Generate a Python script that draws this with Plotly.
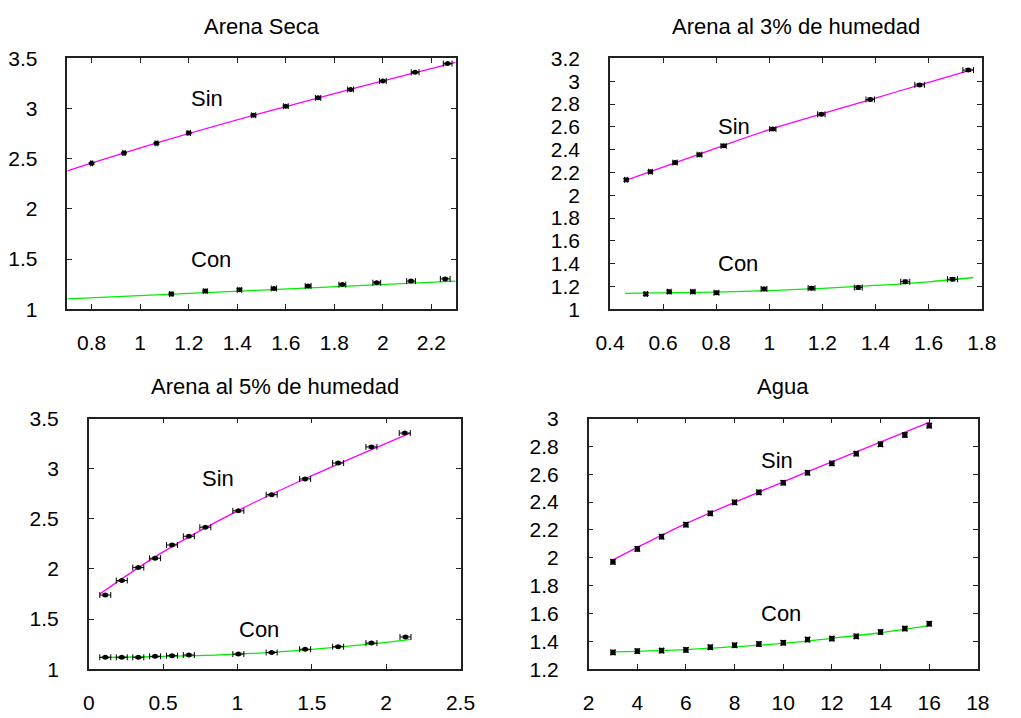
import plotly.graph_objects as go

# ---------------- data ----------------
titles = ["Arena Seca", "Arena al 3% de humedad", "Arena al 5% de humedad", "Agua"]

# Panel 1: Arena Seca
p1_sin_x = [0.80, 0.933, 1.067, 1.20, 1.467, 1.60, 1.733, 1.867, 2.00, 2.133, 2.267]
p1_sin_y = [2.454, 2.557, 2.654, 2.757, 2.934, 3.024, 3.107, 3.191, 3.275, 3.362, 3.449]
p1_sin_ex = [0.004, 0.005, 0.006, 0.007, 0.009, 0.010, 0.011, 0.012, 0.014, 0.016, 0.018]
p1_sin_ey = [0.008] * 11
p1_con_x = [1.128, 1.268, 1.409, 1.551, 1.692, 1.833, 1.975, 2.116, 2.257]
p1_con_y = [1.151, 1.180, 1.193, 1.206, 1.232, 1.245, 1.264, 1.280, 1.302]
p1_con_ex = [0.007, 0.008, 0.009, 0.011, 0.012, 0.014, 0.016, 0.018, 0.020]
p1_con_ey = [0.010] * 9
p1_fit_sin_x = [0.7, 1.1, 1.5, 1.9, 2.3]
p1_fit_sin_y = [2.38, 2.68, 2.955, 3.213, 3.46]
p1_fit_con_x = [0.7, 1.5, 2.3]
p1_fit_con_y = [1.103, 1.19, 1.28]

# Panel 2: Arena al 3%
p2_sin_x = [0.461, 0.552, 0.645, 0.737, 0.828, 1.013, 1.196, 1.380, 1.566, 1.749]
p2_sin_y = [2.135, 2.206, 2.286, 2.356, 2.433, 2.580, 2.710, 2.840, 2.968, 3.098]
p2_sin_ex = [0.006, 0.007, 0.008, 0.009, 0.010, 0.012, 0.014, 0.016, 0.018, 0.020]
p2_sin_ey = [0.012] * 10
p2_con_x = [0.535, 0.623, 0.712, 0.801, 0.980, 1.159, 1.335, 1.512, 1.690]
p2_con_y = [1.133, 1.153, 1.153, 1.144, 1.178, 1.184, 1.190, 1.241, 1.263]
p2_con_ex = [0.006, 0.007, 0.008, 0.009, 0.011, 0.013, 0.015, 0.017, 0.019]
p2_con_ey = [0.014] * 9
p2_fit_sin_x = [0.457, 0.8, 1.0, 1.2, 1.4, 1.6, 1.768]
p2_fit_sin_y = [2.128, 2.413, 2.575, 2.715, 2.853, 2.99, 3.105]
p2_fit_con_x = [0.457, 0.8, 1.0, 1.2, 1.4, 1.6, 1.768]
p2_fit_con_y = [1.139, 1.150, 1.163, 1.183, 1.208, 1.240, 1.278]

# Panel 3: Arena al 5%
p3_sin_x = [0.111, 0.222, 0.333, 0.446, 0.560, 0.673, 0.784, 1.006, 1.230, 1.455, 1.677, 1.901, 2.125]
p3_sin_y = [1.740, 1.885, 2.014, 2.107, 2.239, 2.326, 2.416, 2.580, 2.741, 2.898, 3.056, 3.217, 3.355]
p3_sin_ex = [0.037] * 13
p3_sin_ey = [0.010] * 13
p3_con_x = [0.111, 0.222, 0.333, 0.446, 0.560, 0.673, 1.006, 1.230, 1.455, 1.677, 1.901, 2.130]
p3_con_y = [1.119, 1.119, 1.119, 1.129, 1.135, 1.142, 1.151, 1.167, 1.199, 1.225, 1.261, 1.322]
p3_con_ex = [0.037] * 12
p3_con_ey = [0.010] * 12
p3_fit_sin_x = [0.074, 0.5, 1.0, 1.5, 2.165]
p3_fit_sin_y = [1.750, 2.170, 2.580, 2.930, 3.358]
p3_fit_con_x = [0.074, 0.5, 1.0, 1.5, 1.9, 2.165]
p3_fit_con_y = [1.118, 1.127, 1.150, 1.198, 1.252, 1.298]

# Panel 4: Agua
p4_x = [3, 4, 5, 6, 7, 8, 9, 10, 11, 12, 13, 14, 15, 16]
p4_sin_y = [1.971, 2.064, 2.152, 2.238, 2.319, 2.398, 2.470, 2.539, 2.611, 2.678, 2.748, 2.815, 2.882, 2.949]
p4_con_y = [1.321, 1.330, 1.334, 1.339, 1.358, 1.372, 1.381, 1.390, 1.413, 1.420, 1.436, 1.467, 1.492, 1.527]
p4_ex = [0.08] * 14
p4_ey = [0.016] * 14
p4_fit_sin_x = [3, 6, 10, 13, 16]
p4_fit_sin_y = [1.985, 2.245, 2.545, 2.76, 2.972]
p4_fit_con_x = [3, 6, 8, 10, 12, 14, 16]
p4_fit_con_y = [1.325, 1.341, 1.362, 1.386, 1.422, 1.462, 1.513]

# axis settings (range, dtick)
x_ranges = [[0.7, 2.3], [0.4, 1.8], [0.0, 2.5], [2, 18]]
x_dticks = [0.2, 0.2, 0.5, 2]
y_ranges = [[1.0, 3.5], [1.0, 3.2], [1.0, 3.5], [1.2, 3.0]]
y_dticks = [0.5, 0.2, 0.5, 0.2]

label_pos = [((1.2, 3.1), (1.2, 1.5)), ((0.8, 2.6), (0.8, 1.4)),
             ((0.75, 2.9), (1.0, 1.4)), ((9, 2.7), (9, 1.6))]

W, H = 1021, 718
# plot-area pixel boxes (left, right, top, bottom)
boxes = [(54, 454, 48, 307), (613, 996, 48, 307), (76, 459, 420, 679), (591, 992, 420, 679)]
title_y_px = [15, 15, 387, 387]

FONT = "Liberation Sans, Arial, Helvetica, sans-serif"
MAG = "#ff00ff"
GRN = "#00ee00"

panels = [
    (p1_fit_sin_x, p1_fit_sin_y, p1_fit_con_x, p1_fit_con_y,
     (p1_sin_x, p1_sin_y, p1_sin_ex, p1_sin_ey), (p1_con_x, p1_con_y, p1_con_ex, p1_con_ey)),
    (p2_fit_sin_x, p2_fit_sin_y, p2_fit_con_x, p2_fit_con_y,
     (p2_sin_x, p2_sin_y, p2_sin_ex, p2_sin_ey), (p2_con_x, p2_con_y, p2_con_ex, p2_con_ey)),
    (p3_fit_sin_x, p3_fit_sin_y, p3_fit_con_x, p3_fit_con_y,
     (p3_sin_x, p3_sin_y, p3_sin_ex, p3_sin_ey), (p3_con_x, p3_con_y, p3_con_ex, p3_con_ey)),
    (p4_fit_sin_x, p4_fit_sin_y, p4_fit_con_x, p4_fit_con_y,
     (p4_x, p4_sin_y, p4_ex, p4_ey), (p4_x, p4_con_y, p4_ex, p4_ey)),
]

fig = go.Figure()
layout = {}
annotations = []
for i, (fsx, fsy, fcx, fcy, sin_d, con_d) in enumerate(panels):
    n = i + 1
    xa = "x" if n == 1 else f"x{n}"
    ya = "y" if n == 1 else f"y{n}"
    for fx, fy, col in ((fsx, fsy, MAG), (fcx, fcy, GRN)):
        fig.add_trace(go.Scatter(x=fx, y=fy, mode="lines", line=dict(color=col, width=1.3, shape="spline"),
                                 xaxis=xa, yaxis=ya, showlegend=False, hoverinfo="skip"))
    for dx, dy, ex, ey in (sin_d, con_d):
        fig.add_trace(go.Scatter(
            x=dx, y=dy, mode="markers", xaxis=xa, yaxis=ya, showlegend=False,
            marker=dict(color="black", size=5, symbol="circle"),
            error_x=dict(type="data", array=ex, color="black", thickness=1, width=3),
            error_y=dict(type="data", array=ey, color="black", thickness=1, width=3)))
    l, r, t, b = boxes[i]
    xr = x_ranges[i]
    yr = y_ranges[i]
    common = dict(showline=True, linecolor="#222", linewidth=1.5, mirror="allticks",
                  ticks="inside", ticklen=5, tickwidth=1, tickcolor="#222",
                  showgrid=False, zeroline=False,
                  tickfont=dict(family=FONT, size=21, color="black"))
    layout["xaxis" if n == 1 else f"xaxis{n}"] = dict(
        common, domain=[l / W, r / W], anchor=ya,
        range=[xr[0] - 1e-6, xr[1] + 1e-6], tick0=0, dtick=x_dticks[i], ticklabelstandoff=14)
    layout["yaxis" if n == 1 else f"yaxis{n}"] = dict(
        common, domain=[1 - b / H, 1 - t / H], anchor=xa,
        range=[yr[0] - 1e-6, yr[1] + 1e-6], tick0=0, dtick=y_dticks[i], ticklabelstandoff=24)
    annotations.append(dict(text=titles[i], xref="paper", yref="paper",
                            x=(l + r) / 2 / W, y=1 - title_y_px[i] / H,
                            xanchor="center", yanchor="middle", showarrow=False,
                            font=dict(family=FONT, size=22, color="black")))
    for (lx, ly), txt in zip(label_pos[i], ("Sin", "Con")):
        annotations.append(dict(text=txt, x=lx, y=ly, xref=xa, yref=ya, xanchor="left",
                                yanchor="middle", showarrow=False,
                                font=dict(family=FONT, size=22, color="black")))

fig.update_layout(width=W, height=H, margin=dict(l=0, r=0, t=0, b=0),
                  paper_bgcolor="white", plot_bgcolor="white",
                  annotations=annotations, **layout)
fig.write_html("out.html")
